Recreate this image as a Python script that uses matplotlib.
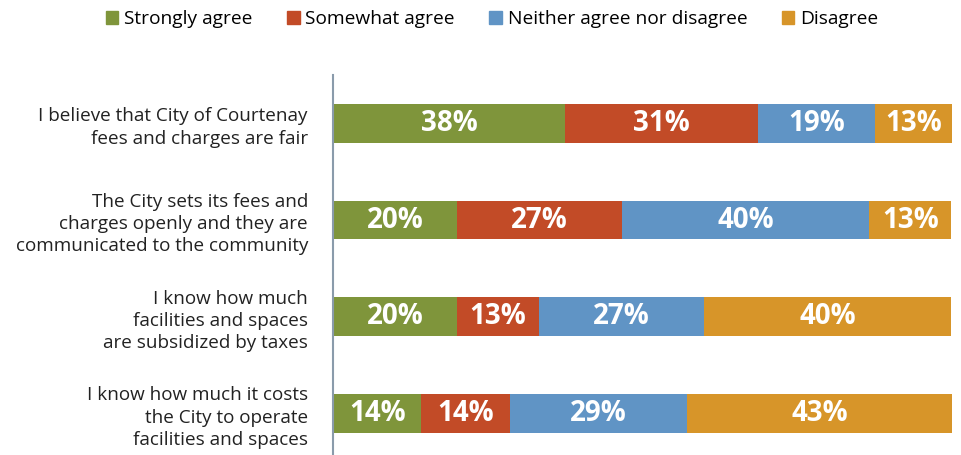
import matplotlib
matplotlib.use('Agg')
from matplotlib import pyplot as plt
from matplotlib.patches import Patch

# chart data
questions = ['I believe that City of Courtenay\nfees and charges are fair',
             'The City sets its fees and\ncharges openly and they are\ncommunicated to the community',
             'I know how much\nfacilities and spaces\nare subsidized by taxes',
             'I know how much it costs\nthe City to operate\nfacilities and spaces']
series_names = ['Strongly agree', 'Somewhat agree', 'Neither agree nor disagree', 'Disagree']
strongly_agree = [37.5, 20.0, 20.0, 14.3]
somewhat_agree = [31.3, 26.7, 13.3, 14.3]
neither = [18.8, 40.0, 26.7, 28.6]
disagree = [12.5, 13.3, 40.0, 42.9]
strongly_agree_lbl = ['38%', '20%', '20%', '14%']
somewhat_agree_lbl = ['31%', '27%', '13%', '14%']
neither_lbl = ['19%', '40%', '27%', '29%']
disagree_lbl = ['13%', '13%', '40%', '43%']

colors = ['#7f953b', '#c24b27', '#6094c5', '#d79529']

plt.rcParams['font.family'] = ['Open Sans', 'DejaVu Sans']

fig = plt.figure(figsize=(9.61, 4.55), dpi=100)
ax = fig.add_axes([333 / 961, 0.0, 619 / 961, 380 / 455])

series = [strongly_agree, somewhat_agree, neither, disagree]
labels = [strongly_agree_lbl, somewhat_agree_lbl, neither_lbl, disagree_lbl]
y = list(range(len(questions)))
left = [0.0] * len(questions)
for vals, lbls, c in zip(series, labels, colors):
    ax.barh(y, vals, left=left, height=0.4, color=c)
    for i in range(len(vals)):
        ax.text(left[i] + vals[i] / 2, y[i], lbls[i], ha='center', va='center',
                color='white', fontsize=20, fontweight='bold')
    left = [l + v for l, v in zip(left, vals)]

ax.set_xlim(0, max(left))
ax.set_ylim(3.43, -0.5)
ax.set_yticks(y)
ax.set_yticklabels(questions, fontsize=13.6, color='#222222', linespacing=1.3)
ax.tick_params(axis='y', length=0, pad=18)
ax.set_xticks([])
for s in ['top', 'right', 'bottom']:
    ax.spines[s].set_visible(False)
ax.spines['left'].set_color('#8a9bab')
ax.spines['left'].set_linewidth(1.5)

handles = [Patch(color=c, label=n) for c, n in zip(colors, series_names)]
fig.legend(handles=handles, loc='center', bbox_to_anchor=(492 / 961, 1 - 19 / 455), ncol=4,
           frameon=False, fontsize=13.8, handlelength=0.65, handleheight=0.65,
           handletextpad=0.3, columnspacing=1.8)

fig.savefig('out.png', dpi=100)
